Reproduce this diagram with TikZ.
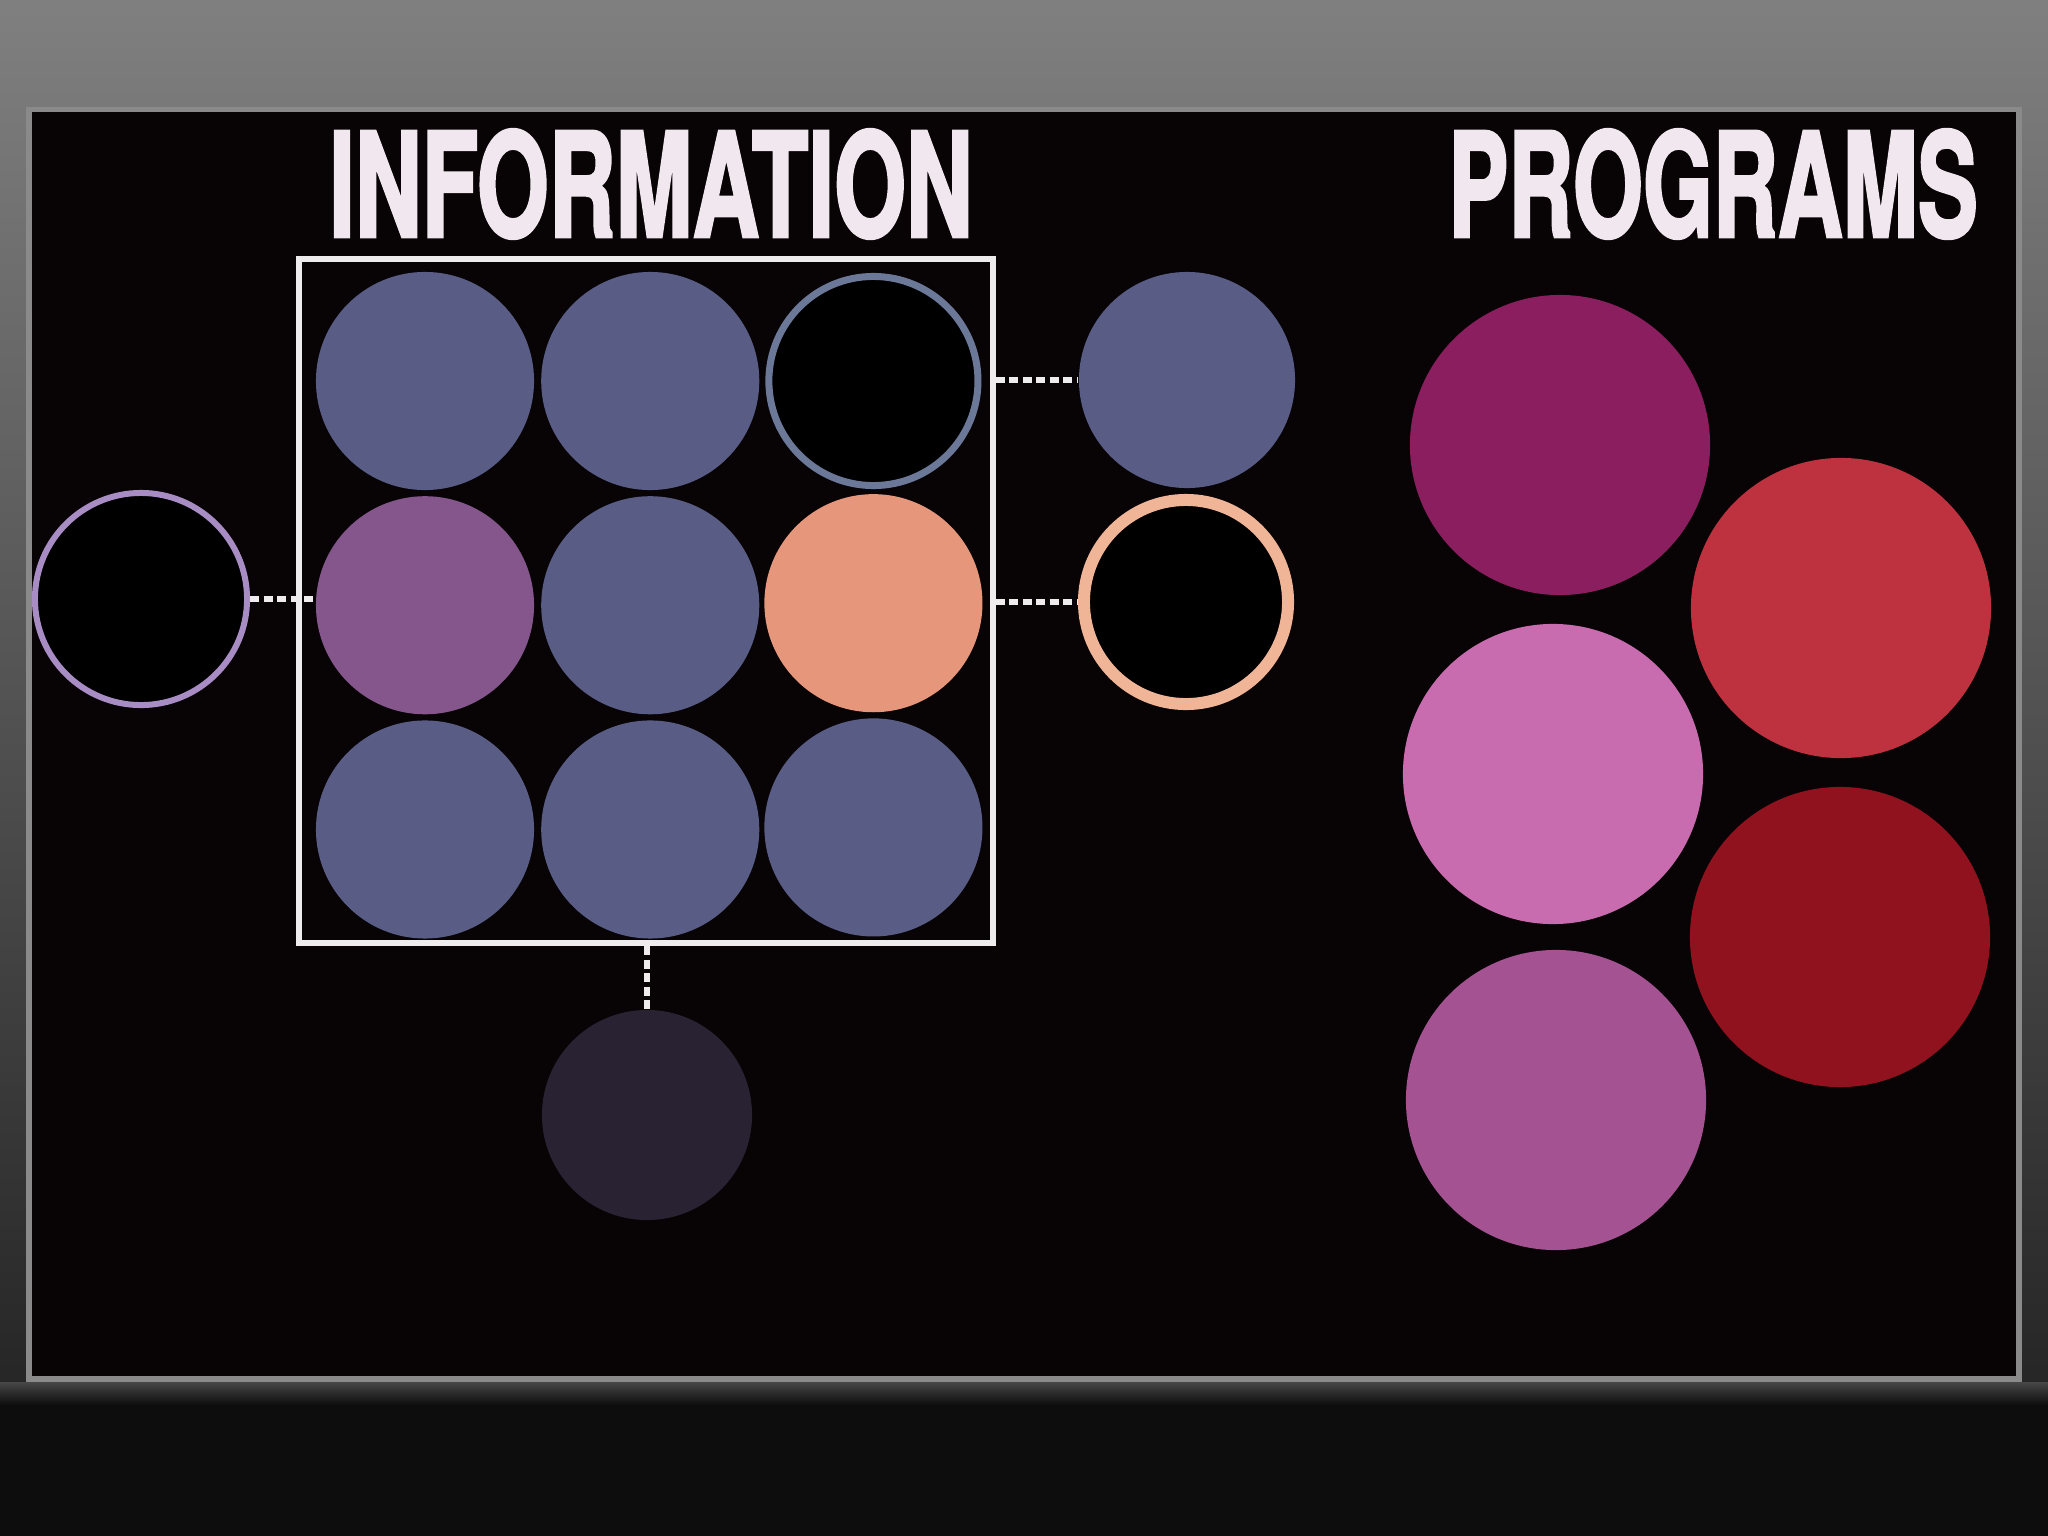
\documentclass[tikz,border=0pt]{standalone}
\usepackage{fontspec}
\setmainfont{TeX Gyre Heros}
\newfontfamily\headfont[FakeBold=2.5]{TeX Gyre Heros Bold}
\usepackage{graphicx}
\usetikzlibrary{positioning}
\tikzset{
  every picture/.append style={line width=0.6pt},
}
\tikzset{
  disc/.style={circle, inner sep=0pt, minimum size=2.18cm},
  ring/.style={circle, draw, inner sep=0pt, fill=black},
  dots/.style={draw=dotwhite, line width=0.06cm, dash pattern=on 0.09cm off 0.045cm},
  title/.style={inner sep=0pt, text=titlewhite, font=\headfont}
}

\begin{document}
\begin{tikzpicture}[x=0.01cm, y=-0.01cm]
% Color definitions
\definecolor{titlewhite}{RGB}{240,232,238}
\definecolor{dotwhite}{RGB}{238,236,236}
\definecolor{cellblue}{RGB}{89,93,134}
\definecolor{ringblue}{RGB}{108,120,152}
\definecolor{mauve}{RGB}{132,86,140}
\definecolor{salmon}{RGB}{230,150,122}
\definecolor{peachring}{RGB}{240,180,150}
\definecolor{lavring}{RGB}{168,140,196}
\definecolor{dusk}{RGB}{40,34,50}
\definecolor{plum}{RGB}{138,30,94}
\definecolor{rose}{RGB}{190,50,64}
\definecolor{pinkish}{RGB}{201,108,175}
\definecolor{crimson}{RGB}{144,18,30}
\definecolor{orchid}{RGB}{165,82,146}
\definecolor{slidegray}{RGB}{138,138,138}
\definecolor{slideblack}{RGB}{8,3,5}

\useasboundingbox (0,0) rectangle (2048,1536);

% Backdrop and slide
\fill[black!95] (0,0) rectangle (2048,1536);
\shade[top color=black!50, middle color=black!60, bottom color=black!85] (0,0) rectangle (2048,1384);
\shade[top color=black!72, bottom color=black!95] (0,1382) rectangle (2048,1405);
\fill[slidegray] (26,107) rectangle (2022,1382);
\fill[slideblack] (32,112) rectangle (2016,1376);

% Titles
\node[title] (infotitle) at (651,184) {\resizebox{6.43cm}{1.07cm}{INFORMATION}};
\node[title] (progtitle) at (1713,184) {\resizebox{5.29cm}{1.07cm}{PROGRAMS}};

% Information block
\node[draw=dotwhite, line width=0.06cm, minimum width=6.93cm, minimum height=6.84cm, inner sep=0pt] (frame) at (646,601) {};
\node[disc, fill=cellblue] (c1) at (425,381) {};
\node[disc, fill=cellblue, right=0.05cm of c1] (c2) {};
\node[ring, draw=ringblue, line width=0.07cm, minimum size=2.09cm, right=0.05cm of c2] (c3) {};
\node[disc, fill=mauve, below=0.04cm of c1] (c4) {};
\node[disc, fill=cellblue, below=0.04cm of c2] (c5) {};
\node[disc, fill=salmon, below=0.04cm of c3] (c6) {};
\node[disc, fill=cellblue, below=0.04cm of c4] (c7) {};
\node[disc, fill=cellblue, below=0.04cm of c5] (c8) {};
\node[disc, fill=cellblue, below=0.04cm of c6] (c9) {};

% Satellites
\node[ring, draw=lavring, line width=0.06cm, minimum size=2.12cm] (inring) at (141,599) {};
\node[disc, fill=cellblue, minimum size=2.16cm] (outdisc) at (1187,380) {};
\node[ring, draw=peachring, line width=0.12cm, minimum size=2.04cm] (outring) at (1186,602) {};
\node[disc, fill=dusk, minimum size=2.10cm] (sink) at (647,1115) {};

\draw[dots] (inring.east) -- (inring.east -| c4.west);
\draw[dots] (frame.east |- outdisc.west) -- (outdisc.west);
\draw[dots] (frame.east |- outring.west) -- (outring.west);
\draw[dots] (frame.south -| sink.north) -- (sink.north);

% Programs
\node[disc, fill=plum, minimum size=3.0cm] (p1) at (1560,445) {};
\node[disc, fill=rose, minimum size=3.0cm] (p2) at (1841,608) {};
\node[disc, fill=pinkish, minimum size=3.0cm] (p3) at (1553,774) {};
\node[disc, fill=crimson, minimum size=3.0cm] (p4) at (1840,937) {};
\node[disc, fill=orchid, minimum size=3.0cm] (p5) at (1556,1100) {};
\end{tikzpicture}
\end{document}
